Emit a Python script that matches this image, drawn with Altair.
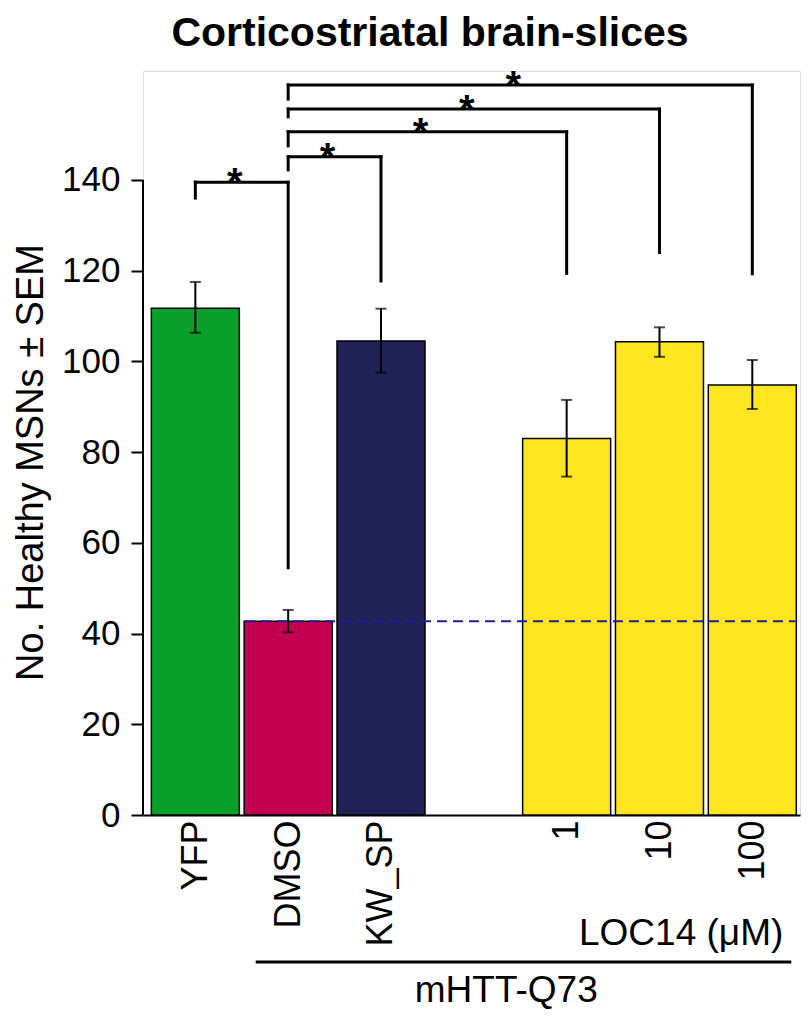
import altair as alt
import pandas as pd

# ---- data ----
title_text = ["Corticostriatal brain-slices"]
categories = ["YFP", "DMSO", "KW_SP", "1", "10", "100"]
slots = [0, 1, 2, 4, 5, 6]
means = [111.7, 42.7, 104.5, 83.0, 104.3, 94.8]
err_lo = [106.3, 40.3, 97.5, 74.6, 101.0, 89.5]
err_hi = [117.5, 45.2, 111.6, 91.5, 107.5, 100.3]
bar_colors = ["#0a9e2a", "#c2004f", "#1f2157", "#ffe620", "#ffe620", "#ffe620"]

y_ticks = [0, 20, 40, 60, 80, 100, 120, 140]

# significance brackets (left bar slot, right bar slot, top, leg ends)
br_left = [0, 1, 1, 1, 1]
br_right = [1, 2, 4, 5, 6]
br_top = [139.5, 145.1, 150.6, 155.6, 160.9]
br_left_end = [136.0, 142.2, 147.5, 153.9, 157.8]
br_right_end = [54.5, 117.7, 119.4, 124.0, 119.3]
br_mark = ["*", "*", "*", "*", "*"]

group_labels = ["LOC14 (μM)", "mHTT-Q73"]
group_first = [4, 1]
group_last = [6, 6]

FONT = "Liberation Sans"
X_DOM = [-0.51, 6.46]
Y_DOM = [0, 164]
HALF = 0.465

bars = pd.DataFrame({"cat": categories, "slot": slots, "mean": means,
                     "lo": err_lo, "hi": err_hi, "color": bar_colors})

segs = []
for l, r, t, le, re in zip(br_left, br_right, br_top, br_left_end, br_right_end):
    segs.append({"x": l, "x2": r, "y": t, "y2": t})
    segs.append({"x": l, "x2": l, "y": t, "y2": le})
    segs.append({"x": r, "x2": r, "y": t, "y2": re})
segs = pd.DataFrame(segs)
stars = pd.DataFrame({"mid": [(l + r) / 2 for l, r in zip(br_left, br_right)],
                      "top": br_top, "txt": br_mark})

xs = alt.Scale(domain=X_DOM, nice=False, zero=False)
ys = alt.Scale(domain=Y_DOM, nice=False)

label_expr = "".join(f"datum.value=={s}?'{c}':" for s, c in zip(slots, categories)) + "''"

x_axis = alt.Axis(values=slots, labelExpr=label_expr, labelAngle=-90, ticks=False,
                  labelFontSize=36, labelFont=FONT, labelColor="black", labelPadding=5,
                  domainColor="black", domainWidth=2, grid=False, title=None)
y_axis = alt.Axis(values=y_ticks, tickSize=12, tickWidth=2, tickColor="black",
                  labelFontSize=35, labelFont=FONT, labelColor="black", labelPadding=11,
                  domain=False, grid=False, title="No. Healthy MSNs ± SEM",
                  titleFontSize=38, titleFont=FONT, titleFontWeight="normal",
                  titleColor="black", titleAngle=270, titleX=-112, titleY=391,
                  titleAlign="center", titleBaseline="middle")

base = alt.Chart(bars)

bar_layer = base.mark_bar(size=88, stroke="black", strokeWidth=1.5).encode(
    x=alt.X("slot:Q", scale=xs, axis=x_axis),
    y=alt.Y("mean:Q", scale=ys, axis=y_axis),
    y2=alt.datum(0),
    color=alt.Color("color:N", scale=None),
)

dash_df = pd.DataFrame({"x": [slots[1] - HALF], "x2": [X_DOM[1]], "y": [means[1]]})
dash_layer = alt.Chart(dash_df).mark_rule(color="#1c1ca8", strokeWidth=2,
                                          strokeDash=[10, 6]).encode(
    x=alt.X("x:Q", scale=xs), x2="x2:Q", y=alt.Y("y:Q", scale=ys))

err_rule = base.mark_rule(color="black", strokeWidth=2).encode(
    x=alt.X("slot:Q", scale=xs), y=alt.Y("lo:Q", scale=ys), y2="hi:Q")
cap_lo = base.mark_tick(color="black", thickness=2, size=11, orient="horizontal").encode(
    x=alt.X("slot:Q", scale=xs), y=alt.Y("lo:Q", scale=ys))
cap_hi = base.mark_tick(color="black", thickness=2, size=11, orient="horizontal").encode(
    x=alt.X("slot:Q", scale=xs), y=alt.Y("hi:Q", scale=ys))

yaxis_line = alt.Chart(pd.DataFrame({"y": [y_ticks[0]], "y2": [y_ticks[-1]]})).mark_rule(
    color="black", strokeWidth=2).encode(
    x=alt.value(0), y=alt.Y("y:Q", scale=ys), y2="y2:Q")

bracket_layer = alt.Chart(segs).mark_rule(color="black", strokeWidth=3,
                                          strokeCap="square").encode(
    x=alt.X("x:Q", scale=xs), x2="x2:Q", y=alt.Y("y:Q", scale=ys), y2="y2:Q")

star_layer = alt.Chart(stars).mark_text(font=FONT, fontSize=40, fontWeight="bold",
                                        baseline="alphabetic", dy=14, dx=-7,
                                        color="black").encode(
    x=alt.X("mid:Q", scale=xs), y=alt.Y("top:Q", scale=ys), text="txt:N")

grp = pd.DataFrame({"label": group_labels, "first": group_first, "last": group_last})
loc_text = alt.Chart(grp.iloc[[0]]).mark_text(font=FONT, fontSize=37, align="right",
                                              baseline="alphabetic", dx=31,
                                              color="black").encode(
    x=alt.X("last:Q", scale=xs), y=alt.value(874), text="label:N")
htt_line = alt.Chart(grp.iloc[[1]]).transform_calculate(
    a="datum.first - 0.35", b="datum.last + 0.42").mark_rule(
    color="black", strokeWidth=3).encode(
    x=alt.X("a:Q", scale=xs), x2="b:Q", y=alt.value(891))
htt_text = alt.Chart(grp.iloc[[1]]).transform_calculate(
    m="(datum.first + datum.last) / 2").mark_text(font=FONT, fontSize=37, align="center",
                                                  baseline="alphabetic", dx=-14,
                                                  color="black").encode(
    x=alt.X("m:Q", scale=xs), y=alt.value(931), text="label:N")

title_layer = alt.Chart(pd.DataFrame({"t": title_text})).mark_text(
    font=FONT, fontSize=41, fontWeight="bold", align="center", baseline="alphabetic",
    color="black").encode(x=alt.value(287), y=alt.value(-25), text="t:N")

chart = alt.layer(
    bar_layer, dash_layer, err_rule, cap_lo, cap_hi, yaxis_line,
    bracket_layer, star_layer, loc_text, htt_line, htt_text, title_layer,
).properties(
    width=657, height=744,
    autosize=alt.AutoSizeParams(type="none"),
    padding={"left": 135, "top": 63, "right": 2, "bottom": 194},
).configure_view(strokeWidth=0, stroke="transparent").configure(background="white")

chart.save("out.html", embed_options={"renderer": "svg", "actions": False})
